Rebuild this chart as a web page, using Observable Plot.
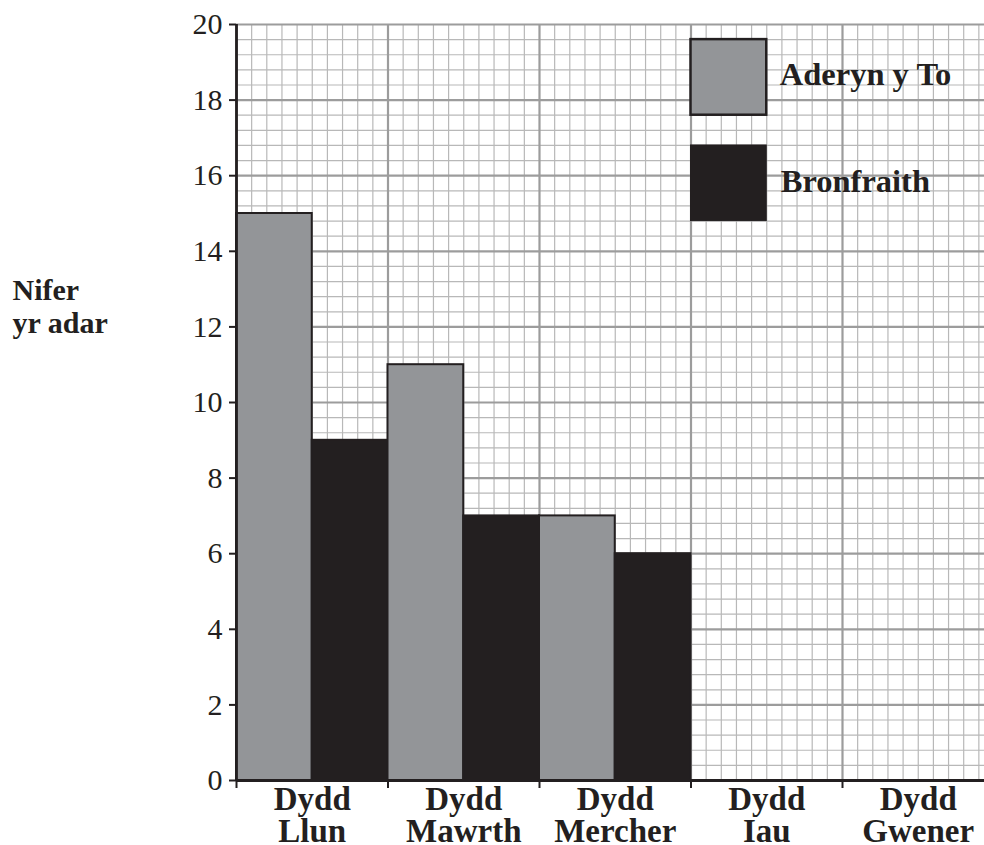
<!DOCTYPE html>
<html><head><meta charset="utf-8">
<script src="https://cdn.jsdelivr.net/npm/d3@7"></script>
<script src="https://cdn.jsdelivr.net/npm/@observablehq/plot@0.6"></script>
<style>html,body{margin:0;padding:0;background:#fff;overflow:hidden}
svg text{font-family:"Liberation Serif",serif}</style>
</head><body><div id="chart"></div>
<script>
const days = ["Dydd\nLlun", "Dydd\nMawrth", "Dydd\nMercher", "Dydd\nIau", "Dydd\nGwener"];
const species = ["Aderyn y To", "Bronfraith"];
const sparrow = [15, 11, 7, null, null];
const thrush = [9, 7, 6, null, null];
const yTicks = [0, 2, 4, 6, 8, 10, 12, 14, 16, 18, 20];
const colors = ["#939598", "#231f20"];

const rows = [];
days.forEach((day, i) => {
  [sparrow, thrush].forEach((vals, j) => {
    if (vals[i] != null) rows.push({day, i, j, species: species[j], count: vals[i]});
  });
});

const minorX = d3.range(0, 50).filter(k => k % 10 !== 0).map(k => k / 10);
const majorX = d3.range(0, 6);
const minorY = d3.range(0, 51).filter(k => k % 5 !== 0).map(k => k * 0.4);
const majorY = yTicks;

const ink = "#231f20";
const serif = "Liberation Serif";
const chart = Plot.plot({
  width: 984,
  height: 845,
  marginLeft: 236,
  marginRight: -9.5,
  marginTop: 24,
  marginBottom: 65,
  style: {fontFamily: serif, fontSize: "30px", color: ink, background: "#fff", overflow: "hidden"},
  x: {domain: [0, 5], axis: null, label: null},
  y: {domain: [0, 20], axis: null, label: null},
  marks: [
    Plot.ruleX(minorX, {stroke: "#b8b8b8", strokeWidth: 1.2}),
    Plot.ruleY(minorY, {stroke: "#b8b8b8", strokeWidth: 1.2}),
    Plot.ruleX(majorX, {stroke: "#9c9c9c", strokeWidth: 2.2}),
    Plot.ruleY(majorY, {stroke: "#9c9c9c", strokeWidth: 2.2}),
    Plot.rectY(rows, {
      x1: d => d.i + d.j / 2,
      x2: d => d.i + (d.j + 1) / 2,
      y1: 0,
      y2: "count",
      fill: d => colors[d.j],
      stroke: ink,
      strokeWidth: 2
    }),
    // legend
    Plot.rect([species[0]], {x1: 3, x2: 3.5, y1: 17.6, y2: 19.6, fill: colors[0], stroke: ink, strokeWidth: 2.5}),
    Plot.rect([species[1]], {x1: 3, x2: 3.5, y1: 14.8, y2: 16.8, fill: colors[1], stroke: ink, strokeWidth: 1}),
    Plot.text([species[0]], {x: 3.5, y: 18.39, dx: 13, text: d => d, textAnchor: "start", lineAnchor: "bottom", fontFamily: serif, fontWeight: "bold", fontSize: 32.5, fill: ink}),
    Plot.text([species[1]], {x: 3.5, y: 15.56, dx: 14, text: d => d, textAnchor: "start", lineAnchor: "bottom", fontFamily: serif, fontWeight: "bold", fontSize: 32.5, fill: ink}),
    // axes
    Plot.axisY({ticks: yTicks, tickSize: 7, tickPadding: 7, tickFormat: d => d, label: null, strokeWidth: 2, stroke: ink, fill: ink, fontFamily: serif, fontSize: 30}),
    Plot.axisX({ticks: majorX, tickSize: 8, tickFormat: () => "", label: null, strokeWidth: 2, stroke: ink}),
    Plot.ruleX([0], {stroke: ink, strokeWidth: 2.8}),
    Plot.ruleY([0], {stroke: ink, strokeWidth: 2.8}),
    Plot.text(days, {x: (d, i) => i + 0.5, y: 0, text: d => d, dy: 7, lineAnchor: "top", lineHeight: 0.97, fontFamily: serif, fontWeight: "bold", fontSize: 33, fill: ink}),
    Plot.text(["Nifer\nyr adar"], {frameAnchor: "top-left", text: d => d, dx: -224, dy: 252, textAnchor: "start", lineAnchor: "top", lineHeight: 1.1, fontFamily: serif, fontWeight: "bold", fontSize: 30, fill: ink})
  ]
});
document.getElementById("chart").appendChild(chart);

// white boxes behind legend labels
d3.select(chart).selectAll("text").each(function () {
  if (species.includes(this.textContent)) {
    const b = this.getBBox();
    const r = document.createElementNS("http://www.w3.org/2000/svg", "rect");
    r.setAttribute("x", b.x - 2);
    r.setAttribute("y", b.y + 3);
    r.setAttribute("width", b.width + 4);
    r.setAttribute("height", b.height - 4);
    r.setAttribute("fill", "#fff");
    this.parentNode.insertBefore(r, this);
  }
});
</script></body></html>
